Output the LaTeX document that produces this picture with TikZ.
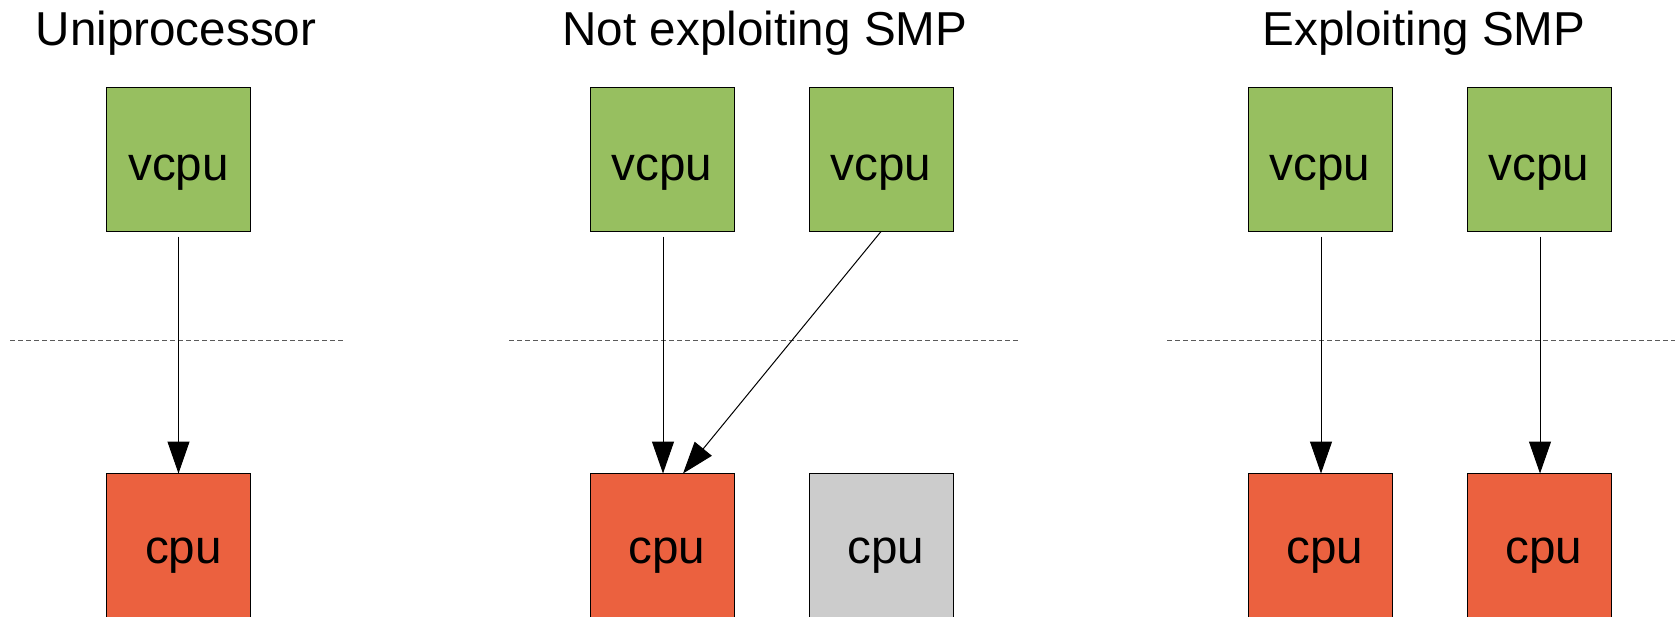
\documentclass[tikz,border=0pt]{standalone}
\usepackage{fontspec}
\setmainfont{Liberation Sans}
\usetikzlibrary{arrows.meta,calc}

\definecolor{vgreen}{HTML}{97BF60}
\definecolor{cred}{HTML}{EB613F}
\definecolor{cgrey}{HTML}{CCCCCC}
\definecolor{sepgrey}{HTML}{5A5A5A}

\tikzset{
  box/.style={draw=black, line width=1pt, minimum size=144pt, inner sep=0pt, outer sep=0pt},
  vbox/.style={box, fill=vgreen},
  cbox/.style={box, fill=cred},
  idlebox/.style={box, fill=cgrey},
  bigtext/.style={font=\fontsize{47.6}{57}\selectfont, inner sep=0pt, anchor=base},
  sep/.style={draw=sepgrey, line width=1pt, dash pattern=on 5pt off 3pt},
  maparrow/.style={draw=black, line width=1pt, -{Triangle[length=32pt,width=22pt]}},
}

\begin{document}
\begin{tikzpicture}[x=1pt, y=-1pt]
  \useasboundingbox (0,0) rectangle (1675,616);

  % column titles
  \node[bigtext] (t1) at (176,45) {Uniprocessor};
  \node[bigtext] (t2) at (765,45) {Not exploiting SMP};
  \node[bigtext] (t3) at (1424,45) {Exploiting SMP};

  % virtual cpus
  \node[vbox] (v1) at (178.5,159.5) {};
  \node[vbox] (v2) at (662,159.5) {};
  \node[vbox] (v3) at (881,159.5) {};
  \node[vbox] (v4) at (1320,159.5) {};
  \node[vbox] (v5) at (1539,159.5) {};

  % physical cpus
  \node[cbox] (c1) at (178.5,545.5) {};
  \node[cbox] (c2) at (662,545.5) {};
  \node[idlebox] (c3) at (881,545.5) {};
  \node[cbox] (c4) at (1320,545.5) {};
  \node[cbox] (c5) at (1539,545.5) {};

  % box labels
  \foreach \n in {v1,v2,v3,v4,v5}
    \node[bigtext] (\n-l) at ($(\n.center)+(0,20.5)$) {vcpu};
  \foreach \n in {c1,c2,c3,c4,c5}
    \node[bigtext] (\n-l) at ($(\n.center)+(5,17.5)$) {cpu};

  % separators between guest and host
  \coordinate (s1a) at (10,340);   \coordinate (s1b) at (344,340);
  \coordinate (s2a) at (509,340);  \coordinate (s2b) at (1018,340);
  \coordinate (s3a) at (1167,340); \coordinate (s3b) at (1675,340);
  \draw[sep] (s1a) -- (s1b);
  \draw[sep] (s2a) -- (s2b);
  \draw[sep] (s3a) -- (s3b);

  % vcpu -> cpu mappings
  \draw[maparrow] ($(v1.south)+(0,5)$) -- (c1.north);
  \draw[maparrow] ($(v2.south)+(1,5)$) -- ($(c2.north)+(1,0)$);
  \draw[maparrow] (v3.south) -- ($(c2.north)+(21,0)$);
  \draw[maparrow] ($(v4.south)+(1,5)$) -- ($(c4.north)+(1,0)$);
  \draw[maparrow] ($(v5.south)+(1,5)$) -- ($(c5.north)+(1,0)$);
\end{tikzpicture}
\end{document}
